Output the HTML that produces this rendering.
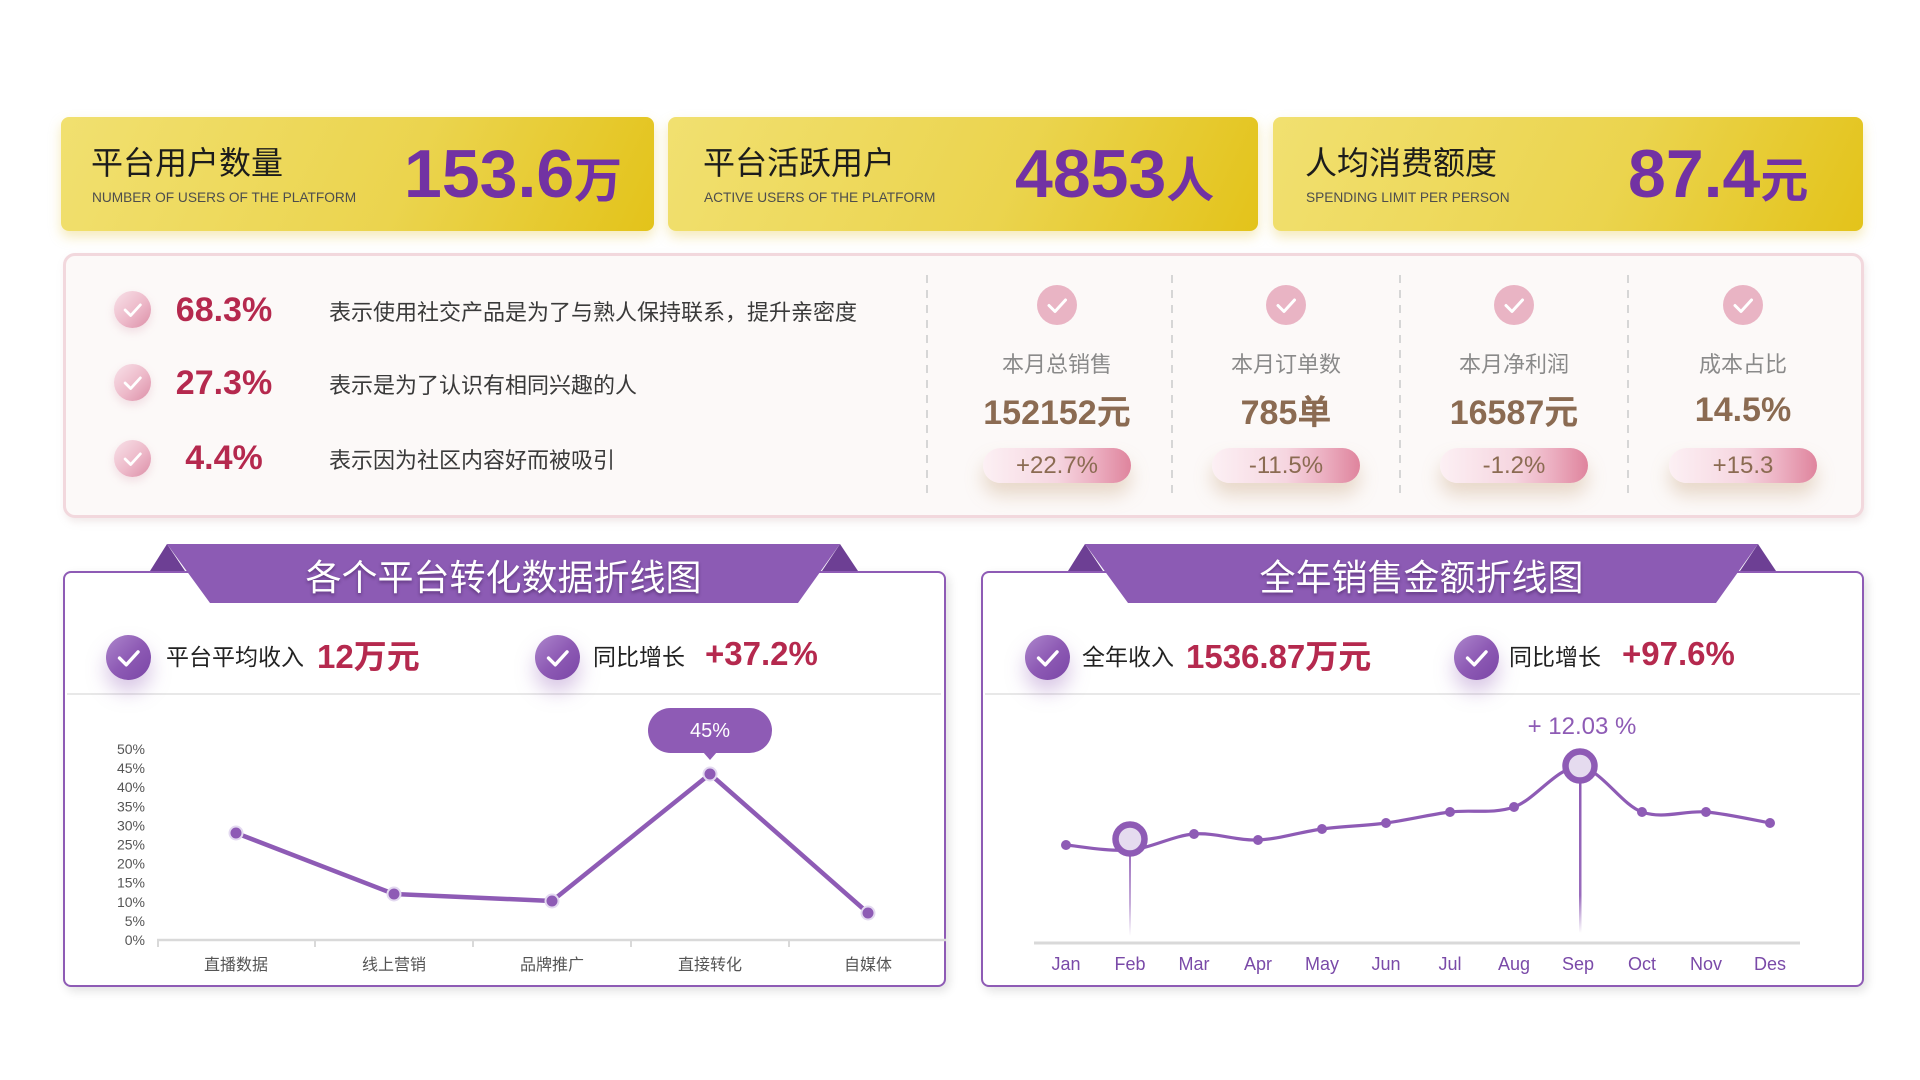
<!DOCTYPE html>
<html>
<head>
<meta charset="utf-8">
<style>
  html,body{margin:0;padding:0;}
  body{width:1920px;height:1080px;background:#fff;position:relative;overflow:hidden;font-family:"Liberation Sans","Noto Sans CJK SC",sans-serif;}
  .a{position:absolute;white-space:nowrap;}
  .card{position:absolute;top:117px;height:114px;border-radius:8px;background:linear-gradient(115deg,#f1e070 0%,#ebd44e 58%,#e3c31a 100%);box-shadow:0 6px 12px rgba(225,195,60,0.35);}
  .ctitle{position:absolute;top:140px;font-size:32px;line-height:42px;color:#1c1c1c;font-family:"Noto Sans CJK SC",sans-serif;white-space:nowrap;}
  .csub{position:absolute;top:189px;font-size:13.7px;line-height:18px;color:#4d4d4d;white-space:nowrap;}
  .big{position:absolute;top:134px;line-height:80px;font-size:68px;font-weight:bold;color:#7232a3;white-space:nowrap;}
  .big span{font-family:"Noto Sans CJK SC",sans-serif;font-size:48px;font-weight:bold;}
  .pink{position:absolute;left:63px;top:253px;width:1801px;height:265px;box-sizing:border-box;border:3px solid #f2d8dd;border-radius:12px;background:#fcf9f8;box-shadow:2px 4px 8px rgba(200,170,170,0.25);}
  .ricon{position:absolute;width:37px;height:37px;border-radius:50%;background:linear-gradient(135deg,#f8e2e9 0%,#edb9c9 55%,#dc8ea7 100%);box-shadow:0 4px 9px rgba(220,160,180,0.3);}
  .pct{position:absolute;width:150px;text-align:center;font-size:34px;font-weight:bold;color:#b5294e;line-height:44px;}
  .desc{position:absolute;left:329px;font-size:22px;line-height:32px;color:#3a3a3a;font-family:"Noto Sans CJK SC",sans-serif;white-space:nowrap;}
  .cicon{position:absolute;top:285px;width:40px;height:40px;border-radius:50%;background:#e9b4c4;}
  .clab{position:absolute;top:347px;width:200px;text-align:center;font-size:22px;line-height:32px;color:#8a8a8a;font-family:"Noto Sans CJK SC",sans-serif;}
  .cval{position:absolute;top:388px;width:220px;text-align:center;font-size:34px;line-height:44px;font-weight:bold;color:#8b6b52;white-space:nowrap;}
  .cval span{font-family:"Noto Sans CJK SC",sans-serif;font-weight:bold;}
  .pill{position:absolute;top:448px;width:148px;height:35px;border-radius:18px;background:linear-gradient(90deg,#fcf0f4 0%,#f6d6e0 50%,#ecb0c2 75%,#df849d 100%);box-shadow:0 12px 18px rgba(195,155,115,0.35);text-align:center;line-height:35px;font-size:24px;color:#8b6b52;}
  .panel{position:absolute;top:571px;height:416px;border:2px solid #8e5bb5;border-radius:8px;box-sizing:border-box;background:#fff;box-shadow:3px 4px 10px rgba(0,0,0,0.12);}
  .sep{position:absolute;top:693px;height:2px;background:#e8e8e8;}
  .picon{position:absolute;top:635px;width:45px;height:45px;border-radius:50%;background:linear-gradient(135deg,#ad86cc 0%,#8e5bb5 50%,#7a45a6 100%);box-shadow:0 12px 20px rgba(142,91,181,0.35);}
  .slab{position:absolute;top:637px;font-size:23px;line-height:36px;color:#222;font-family:"Noto Sans CJK SC",sans-serif;white-space:nowrap;}
  .sval{position:absolute;top:633px;font-size:33px;line-height:42px;font-weight:bold;color:#b5294e;white-space:nowrap;}
  .sval span{font-family:"Noto Sans CJK SC",sans-serif;font-weight:bold;}
  .btitle{position:absolute;top:553px;height:44px;line-height:44px;text-align:center;font-size:36px;color:#fff;font-family:"Noto Sans CJK SC",sans-serif;text-shadow:0 2px 3px rgba(40,10,60,0.45);z-index:5;white-space:nowrap;}
  svg.ov{position:absolute;left:0;top:0;z-index:3;}
  .icon svg{display:block;width:100%;height:100%;}
</style>
</head>
<body>

<!-- Top yellow cards -->
<div class="card" style="left:61px;width:593px;"></div>
<div class="card" style="left:668px;width:590px;"></div>
<div class="card" style="left:1273px;width:590px;"></div>

<div class="ctitle" style="left:91px;">平台用户数量</div>
<div class="csub" style="left:92px;">NUMBER OF USERS OF THE PLATFORM</div>
<div class="big" style="left:404px;">153.6<span>万</span></div>

<div class="ctitle" style="left:703px;">平台活跃用户</div>
<div class="csub" style="left:704px;">ACTIVE USERS OF THE PLATFORM</div>
<div class="big" style="left:1015px;">4853<span>人</span></div>

<div class="ctitle" style="left:1305px;">人均消费额度</div>
<div class="csub" style="left:1306px;">SPENDING LIMIT PER PERSON</div>
<div class="big" style="left:1628px;">87.4<span>元</span></div>

<!-- Pink panel -->
<div class="pink"></div>

<div class="ricon icon" style="left:114px;top:291px;"><svg viewBox="0 0 40 40"><polyline points="12,20.5 18,26.5 28.5,15" fill="none" stroke="#fff" stroke-width="3" stroke-linecap="round" stroke-linejoin="round"/></svg></div>
<div class="ricon icon" style="left:114px;top:364px;"><svg viewBox="0 0 40 40"><polyline points="12,20.5 18,26.5 28.5,15" fill="none" stroke="#fff" stroke-width="3" stroke-linecap="round" stroke-linejoin="round"/></svg></div>
<div class="ricon icon" style="left:114px;top:440px;"><svg viewBox="0 0 40 40"><polyline points="12,20.5 18,26.5 28.5,15" fill="none" stroke="#fff" stroke-width="3" stroke-linecap="round" stroke-linejoin="round"/></svg></div>

<div class="pct" style="left:149px;top:288px;">68.3%</div>
<div class="pct" style="left:149px;top:361px;">27.3%</div>
<div class="pct" style="left:149px;top:436px;">4.4%</div>

<div class="desc" style="top:295px;">表示使用社交产品是为了与熟人保持联系，提升亲密度</div>
<div class="desc" style="top:368px;">表示是为了认识有相同兴趣的人</div>
<div class="desc" style="top:443px;">表示因为社区内容好而被吸引</div>

<!-- column stats -->
<div class="cicon icon" style="left:1037px;"><svg viewBox="0 0 40 40"><polyline points="12,20.5 18,26.5 28.5,15" fill="none" stroke="#fff" stroke-width="3" stroke-linecap="round" stroke-linejoin="round"/></svg></div>
<div class="cicon icon" style="left:1266px;"><svg viewBox="0 0 40 40"><polyline points="12,20.5 18,26.5 28.5,15" fill="none" stroke="#fff" stroke-width="3" stroke-linecap="round" stroke-linejoin="round"/></svg></div>
<div class="cicon icon" style="left:1494px;"><svg viewBox="0 0 40 40"><polyline points="12,20.5 18,26.5 28.5,15" fill="none" stroke="#fff" stroke-width="3" stroke-linecap="round" stroke-linejoin="round"/></svg></div>
<div class="cicon icon" style="left:1723px;"><svg viewBox="0 0 40 40"><polyline points="12,20.5 18,26.5 28.5,15" fill="none" stroke="#fff" stroke-width="3" stroke-linecap="round" stroke-linejoin="round"/></svg></div>

<div class="clab" style="left:957px;">本月总销售</div>
<div class="clab" style="left:1186px;">本月订单数</div>
<div class="clab" style="left:1414px;">本月净利润</div>
<div class="clab" style="left:1643px;">成本占比</div>

<div class="cval" style="left:947px;">152152<span>元</span></div>
<div class="cval" style="left:1176px;">785<span>单</span></div>
<div class="cval" style="left:1404px;">16587<span>元</span></div>
<div class="cval" style="left:1633px;">14.5%</div>

<div class="pill" style="left:983px;">+22.7%</div>
<div class="pill" style="left:1212px;">-11.5%</div>
<div class="pill" style="left:1440px;">-1.2%</div>
<div class="pill" style="left:1669px;">+15.3</div>

<!-- bottom panels -->
<div class="panel" style="left:63px;width:883px;"></div>
<div class="panel" style="left:981px;width:883px;"></div>
<div class="sep" style="left:67px;width:874px;"></div>
<div class="sep" style="left:985px;width:875px;"></div>

<div class="picon icon" style="left:106px;"><svg viewBox="0 0 40 40"><polyline points="12,20.5 18,26.5 28.5,15" fill="none" stroke="#fff" stroke-width="3" stroke-linecap="round" stroke-linejoin="round"/></svg></div>
<div class="picon icon" style="left:535px;"><svg viewBox="0 0 40 40"><polyline points="12,20.5 18,26.5 28.5,15" fill="none" stroke="#fff" stroke-width="3" stroke-linecap="round" stroke-linejoin="round"/></svg></div>
<div class="picon icon" style="left:1025px;"><svg viewBox="0 0 40 40"><polyline points="12,20.5 18,26.5 28.5,15" fill="none" stroke="#fff" stroke-width="3" stroke-linecap="round" stroke-linejoin="round"/></svg></div>
<div class="picon icon" style="left:1454px;"><svg viewBox="0 0 40 40"><polyline points="12,20.5 18,26.5 28.5,15" fill="none" stroke="#fff" stroke-width="3" stroke-linecap="round" stroke-linejoin="round"/></svg></div>

<div class="slab" style="left:166px;">平台平均收入</div>
<div class="sval" style="left:317px;">12<span>万元</span></div>
<div class="slab" style="left:593px;">同比增长</div>
<div class="sval" style="left:705px;">+37.2%</div>

<div class="slab" style="left:1082px;">全年收入</div>
<div class="sval" style="left:1186px;">1536.87<span>万元</span></div>
<div class="slab" style="left:1509px;">同比增长</div>
<div class="sval" style="left:1622px;">+97.6%</div>

<svg class="ov" width="1920" height="1080" viewBox="0 0 1920 1080" xmlns="http://www.w3.org/2000/svg">
  <defs>
    <linearGradient id="fade" x1="0" y1="0" x2="0" y2="1">
      <stop offset="0" stop-color="#8e5bb5" stop-opacity="0.85"/>
      <stop offset="0.6" stop-color="#8e5bb5" stop-opacity="0.5"/>
      <stop offset="1" stop-color="#8e5bb5" stop-opacity="0"/>
    </linearGradient>
    <linearGradient id="fade2" x1="0" y1="0" x2="0" y2="1">
      <stop offset="0" stop-color="#8e5bb5" stop-opacity="1"/>
      <stop offset="0.75" stop-color="#8e5bb5" stop-opacity="0.9"/>
      <stop offset="1" stop-color="#8e5bb5" stop-opacity="0"/>
    </linearGradient>
  </defs>

  <!-- dashed separators in pink panel -->
  <g stroke="#d6d6d6" stroke-width="2" stroke-dasharray="8 7">
    <line x1="927" y1="275" x2="927" y2="497"/>
    <line x1="1172" y1="275" x2="1172" y2="497"/>
    <line x1="1400" y1="275" x2="1400" y2="497"/>
    <line x1="1628" y1="275" x2="1628" y2="497"/>
  </g>

  <!-- banners -->
  <polygon points="150,571 167,544 185,571" fill="#6d3f94"/>
  <polygon points="858,571 840,544 822,571" fill="#6d3f94"/>
  <polygon points="167,544 840,544 798,603 210,603" fill="#8c5bb4"/>
  <polygon points="1068,571 1085,544 1103,571" fill="#6d3f94"/>
  <polygon points="1776,571 1758,544 1740,571" fill="#6d3f94"/>
  <polygon points="1085,544 1758,544 1716,603 1128,603" fill="#8c5bb4"/>

  <!-- LEFT CHART -->
  <g font-family="Liberation Sans, sans-serif" font-size="14" fill="#555" text-anchor="end">
    <text x="145" y="945">0%</text>
    <text x="145" y="925.9">5%</text>
    <text x="145" y="906.8">10%</text>
    <text x="145" y="887.7">15%</text>
    <text x="145" y="868.6">20%</text>
    <text x="145" y="849.5">25%</text>
    <text x="145" y="830.4">30%</text>
    <text x="145" y="811.3">35%</text>
    <text x="145" y="792.2">40%</text>
    <text x="145" y="773.1">45%</text>
    <text x="145" y="754">50%</text>
  </g>
  <line x1="157" y1="940" x2="946" y2="940" stroke="#d9d9d9" stroke-width="2.5"/>
  <g stroke="#d9d9d9" stroke-width="2">
    <line x1="158" y1="940" x2="158" y2="947"/>
    <line x1="315" y1="940" x2="315" y2="947"/>
    <line x1="473" y1="940" x2="473" y2="947"/>
    <line x1="631" y1="940" x2="631" y2="947"/>
    <line x1="789" y1="940" x2="789" y2="947"/>
  </g>
  <g font-family="Noto Sans CJK SC, sans-serif" font-size="16" fill="#555" text-anchor="middle">
    <text x="236" y="970">直播数据</text>
    <text x="394" y="970">线上营销</text>
    <text x="552" y="970">品牌推广</text>
    <text x="710" y="970">直接转化</text>
    <text x="868" y="970">自媒体</text>
  </g>
  <polyline points="236,833 394,894 552,901 710,774 868,913" fill="none" stroke="#8e5bb5" stroke-width="4.5" stroke-linejoin="round"/>
  <g fill="#8e5bb5" stroke="#e3d9f0" stroke-width="2">
    <circle cx="236" cy="833" r="6.5"/>
    <circle cx="394" cy="894" r="6.5"/>
    <circle cx="552" cy="901" r="6.5"/>
    <circle cx="710" cy="774" r="6.5"/>
    <circle cx="868" cy="913" r="6.5"/>
  </g>
  <rect x="648" y="708" width="124" height="45" rx="22.5" fill="#8e5bb5"/>
  <polygon points="703,752 717,752 710,760" fill="#8e5bb5"/>
  <text x="710" y="737" font-family="Liberation Sans, sans-serif" font-size="20" fill="#fff" text-anchor="middle">45%</text>

  <!-- RIGHT CHART -->
  <line x1="1034" y1="943" x2="1800" y2="943" stroke="#d9d9d9" stroke-width="3"/>
  <g font-family="Liberation Sans, sans-serif" font-size="18" fill="#7a4aa8" text-anchor="middle">
    <text x="1066" y="970">Jan</text>
    <text x="1130" y="970">Feb</text>
    <text x="1194" y="970">Mar</text>
    <text x="1258" y="970">Apr</text>
    <text x="1322" y="970">May</text>
    <text x="1386" y="970">Jun</text>
    <text x="1450" y="970">Jul</text>
    <text x="1514" y="970">Aug</text>
    <text x="1578" y="970">Sep</text>
    <text x="1642" y="970">Oct</text>
    <text x="1706" y="970">Nov</text>
    <text x="1770" y="970">Des</text>
  </g>
  <rect x="1129" y="856" width="2" height="80" fill="url(#fade)"/>
  <rect x="1579" y="783" width="2.5" height="150" fill="url(#fade2)"/>
  <path d="M1066,845 C1076.7,845.8 1108.7,851.8 1130,850 C1151.3,848.2 1172.7,835.7 1194,834 C1215.3,832.3 1236.7,840.8 1258,840 C1279.3,839.2 1300.7,831.8 1322,829 C1343.3,826.2 1364.7,825.8 1386,823 C1407.3,820.2 1428.7,814.7 1450,812 C1471.3,809.3 1492.5,814.5 1514,807 C1535.5,799.5 1557.7,766.2 1579,767 C1600.3,767.8 1620.8,804.5 1642,812 C1663.2,819.5 1684.7,810.2 1706,812 C1727.3,813.8 1759.3,821.2 1770,823" fill="none" stroke="#8e5bb5" stroke-width="3.2"/>
  <g fill="#8e5bb5">
    <circle cx="1066" cy="845" r="5"/>
    <circle cx="1194" cy="834" r="5"/>
    <circle cx="1258" cy="840" r="5"/>
    <circle cx="1322" cy="829" r="5"/>
    <circle cx="1386" cy="823" r="5"/>
    <circle cx="1450" cy="812" r="5"/>
    <circle cx="1514" cy="807" r="5"/>
    <circle cx="1642" cy="812" r="5"/>
    <circle cx="1706" cy="812" r="5"/>
    <circle cx="1770" cy="823" r="5"/>
  </g>
  <circle cx="1130" cy="839" r="14.5" fill="#e5dbef" stroke="#8e5bb5" stroke-width="6.5"/>
  <circle cx="1580" cy="766" r="14.5" fill="#e5dbef" stroke="#8e5bb5" stroke-width="6.5"/>
  <text x="1582" y="734" font-family="Liberation Sans, sans-serif" font-size="24" fill="#8e5bb5" text-anchor="middle">+ 12.03 %</text>
</svg>

<div class="btitle" style="left:167px;width:673px;">各个平台转化数据折线图</div>
<div class="btitle" style="left:1085px;width:673px;">全年销售金额折线图</div>

</body>
</html>
